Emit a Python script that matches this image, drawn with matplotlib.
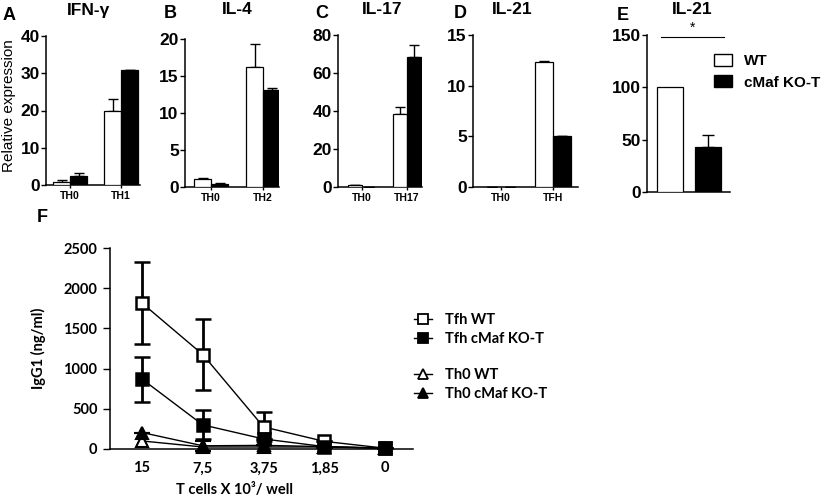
import matplotlib
matplotlib.use('Agg')
import matplotlib.pyplot as plt
from matplotlib.patches import Patch
from matplotlib.lines import Line2D

plt.rcParams['font.family'] = ['Liberation Sans', 'DejaVu Sans']
plt.rcParams['axes.linewidth'] = 1.1

W, H = 827, 497

# ---- data: panels A-D (relative expression) ----
groups_a = ['TH0', 'TH1']
wt_a = [0.9, 20.0]
wt_a_err = [0.5, 3.0]
ko_a = [2.4, 31.0]
ko_a_err = [0.8, 0.0]

groups_b = ['TH0', 'TH2']
wt_b = [1.1, 16.2]
wt_b_err = [0.1, 3.1]
ko_b = [0.45, 13.1]
ko_b_err = [0.05, 0.3]

groups_c = ['TH0', 'TH17']
wt_c = [1.0, 38.5]
wt_c_err = [0.3, 3.7]
ko_c = [0.0, 68.5]
ko_c_err = [0.0, 6.2]

groups_d = ['TH0', 'TFH']
wt_d = [0.0, 12.35]
wt_d_err = [0.0, 0.12]
ko_d = [0.0, 5.0]
ko_d_err = [0.0, 0.06]

# ---- panel E ----
wt_e = 100
ko_e = 43
ko_e_err = 11

# ---- panel F (IgG1 ng/ml) ----
cells = ['15', '7,5', '3,75', '1,85', '0']
tfh_wt = [1815, 1175, 275, 95, 10]
tfh_wt_err = [510, 445, 180, 0, 0]
tfh_ko = [870, 300, 125, 30, 10]
tfh_ko_err = [280, 180, 0, 0, 0]
th0_wt = [100, 25, 25, 25, 10]
th0_ko = [205, 40, 45, 30, 10]
th0_ko_err = [0, 60, 0, 0, 0]

fig = plt.figure(figsize=(W / 100, H / 100), dpi=100)


def fx(x):
    return x / W


def fy(y):
    return 1 - y / H


def add_ax(x0, x1, ytop, ybot):
    return fig.add_axes([fx(x0), fy(ybot), (x1 - x0) / W, (ybot - ytop) / H])


def style_y(ax, ymax, yticks):
    ax.set_ylim(0, ymax)
    ax.set_yticks(yticks)
    ax.spines['top'].set_visible(False)
    ax.spines['right'].set_visible(False)
    ax.tick_params(axis='y', length=3.5, width=1.0, pad=1, labelsize=12.5)
    for t in ax.get_yticklabels():
        t.set_fontweight('bold')


def bar_panel(px, groups, wt, wt_err, ko, ko_err, ymax, yticks):
    x0, x1, ytop, ybot, c0, c1, bw = px
    sp = c1 - c0
    ax = add_ax(x0, x1, ytop, ybot)
    w = bw / sp
    pos = list(range(len(groups)))
    pw = [p - w / 2 for p in pos]
    pk = [p + w / 2 for p in pos]
    ax.bar(pw, wt, w, color='white', edgecolor='black', linewidth=0.9, zorder=3)
    ax.bar(pk, ko, w, color='black', edgecolor='black', linewidth=0.9, zorder=3)
    ax.errorbar(pw, wt, yerr=[[0] * len(wt), wt_err], fmt='none', ecolor='black',
                elinewidth=1.0, capsize=3.5, capthick=1.0, zorder=2)
    ax.errorbar(pk, ko, yerr=[[0] * len(ko), ko_err], fmt='none', ecolor='black',
                elinewidth=1.0, capsize=3.5, capthick=1.0, zorder=2)
    ax.set_xlim((x0 - c0) / sp, (x1 - c0) / sp)
    style_y(ax, ymax, yticks)
    ax.set_xticks(pos)
    ax.set_xticklabels(groups, fontsize=7.5, fontweight='bold')
    ax.tick_params(axis='x', length=2.5, width=1.0, pad=1.5)
    return ax


ax_a = bar_panel((46, 140, 36, 185, 70, 121, 17), groups_a, wt_a, wt_a_err, ko_a, ko_a_err,
                 40, [0, 10, 20, 30, 40])
ax_b = bar_panel((185, 279, 39, 187, 211, 263, 17), groups_b, wt_b, wt_b_err, ko_b, ko_b_err,
                 20, [0, 5, 10, 15, 20])
ax_c = bar_panel((338, 422, 35, 187, 362, 407, 14.5), groups_c, wt_c, wt_c_err, ko_c, ko_c_err,
                 80, [0, 20, 40, 60, 80])
ax_d = bar_panel((473, 578, 35, 187, 501, 553, 18), groups_d, wt_d, wt_d_err, ko_d, ko_d_err,
                 15, [0, 5, 10, 15])

# ---- panel E ----
ax_e = add_ax(647, 730, 35, 192)
we = 26 / 38
ax_e.bar([0], [wt_e], we, color='white', edgecolor='black', linewidth=0.9, zorder=3)
ax_e.bar([1], [ko_e], we, color='black', edgecolor='black', linewidth=0.9, zorder=3)
ax_e.errorbar([1], [ko_e], yerr=[[0], [ko_e_err]], fmt='none', ecolor='black',
              elinewidth=1.0, capsize=4, capthick=1.0, zorder=2)
ax_e.set_xlim(-23 / 38, 60 / 38)
style_y(ax_e, 150, [0, 50, 100, 150])
ax_e.set_xticks([])
ax_e.plot([-0.24, 1.42], [148, 148], color='black', lw=0.8, clip_on=False)
ax_e.text(0.6, 150, '*', ha='center', va='bottom', fontsize=10)
ax_e.legend(handles=[Patch(facecolor='white', edgecolor='black', linewidth=1.0),
                     Patch(facecolor='black', edgecolor='black')],
            labels=['WT', 'cMaf KO-T'], loc='upper left',
            bbox_to_anchor=(fx(714), fy(54)), bbox_transform=fig.transFigure,
            frameon=False, borderpad=0, borderaxespad=0, handlelength=1.2,
            handleheight=0.85, handletextpad=0.75, labelspacing=0.45,
            prop={'weight': 'bold', 'size': 11})

# titles and panel letters
for x, s in [(89, 'IFN-γ'), (237, 'IL-4'), (382, 'IL-17'), (512, 'IL-21'), (692, 'IL-21')]:
    fig.text(fx(x), fy(10), s, ha='center', va='center', fontsize=12.5, fontweight='bold')
for x, y, s in [(9, 15, 'A'), (170, 14, 'B'), (322, 14, 'C'), (460, 14, 'D'),
                (623, 15, 'E'), (42, 218, 'F')]:
    fig.text(fx(x), fy(y), s, ha='center', va='center', fontsize=13, fontweight='bold')
fig.text(fx(9), fy(106), 'Relative expression', rotation=90, ha='center', va='center',
         fontsize=11)

# ---- panel F ----
fam_f = ['Lato', 'DejaVu Sans']
ax_f = add_ax(110, 413, 248, 449)
xs = list(range(len(cells)))
eb = dict(ecolor='black', elinewidth=2.0, capsize=5.5, capthick=2.0, lw=1.0, color='black',
          clip_on=False)
ax_f.errorbar(xs, tfh_wt, yerr=tfh_wt_err, marker='s', ms=8.5, mfc='white',
              mec='black', mew=1.8, zorder=4, **eb)
ax_f.errorbar(xs, tfh_ko, yerr=tfh_ko_err, marker='s', ms=8.5, mfc='black',
              mec='black', mew=1.8, zorder=5, **eb)
ax_f.errorbar(xs, th0_wt, marker='^', ms=8, mfc='white', mec='black', mew=1.5, zorder=3,
              **eb)
ax_f.errorbar(xs, th0_ko, yerr=th0_ko_err, marker='^', ms=8, mfc='black',
              mec='black', mew=1.5, zorder=3, **eb)
ax_f.set_xlim((110 - 142) / 60.75, (413 - 142) / 60.75)
ax_f.set_ylim(0, 2500)
ax_f.set_yticks([0, 500, 1000, 1500, 2000, 2500])
ax_f.set_xticks(xs)
ax_f.set_xticklabels(cells)
ax_f.spines['top'].set_visible(False)
ax_f.spines['right'].set_visible(False)
ax_f.tick_params(axis='y', length=5, width=1.0, pad=4)
ax_f.tick_params(axis='x', length=0, pad=9)
for t in ax_f.get_xticklabels() + ax_f.get_yticklabels():
    t.set_family(fam_f)
    t.set_fontsize(10.5)
    t.set_fontweight('bold')
ax_f.set_ylabel('IgG1 (ng/ml)', family=fam_f, fontsize=10.5, fontweight='bold')
ax_f.yaxis.set_label_coords(-0.21, 0.5)
ax_f.set_xlabel('T cells X 10³/ well', family=fam_f, fontsize=10.5, fontweight='bold')
ax_f.xaxis.set_label_coords(0.41, -0.17)

mk = dict(color='black', lw=1.0, mec='black', mew=1.3, ms=7)
leg1 = ax_f.legend(handles=[Line2D([], [], marker='s', mfc='white', **mk),
                            Line2D([], [], marker='s', mfc='black', **mk)],
                   labels=['Tfh WT', 'Tfh cMaf KO-T'], loc='upper left',
                   bbox_to_anchor=(fx(414), fy(313)), bbox_transform=fig.transFigure,
                   frameon=False, borderpad=0, borderaxespad=0, handlelength=1.2,
                   handletextpad=0.9, labelspacing=0.35,
                   prop={'family': fam_f, 'weight': 'bold', 'size': 10.5})
ax_f.add_artist(leg1)
ax_f.legend(handles=[Line2D([], [], marker='^', mfc='white', **mk),
                     Line2D([], [], marker='^', mfc='black', **mk)],
            labels=['Th0 WT', 'Th0 cMaf KO-T'], loc='upper left',
            bbox_to_anchor=(fx(414), fy(368)), bbox_transform=fig.transFigure,
            frameon=False, borderpad=0, borderaxespad=0, handlelength=1.2,
            handletextpad=0.9, labelspacing=0.35,
            prop={'family': fam_f, 'weight': 'bold', 'size': 10.5})

plt.savefig('out.png', dpi=100)
